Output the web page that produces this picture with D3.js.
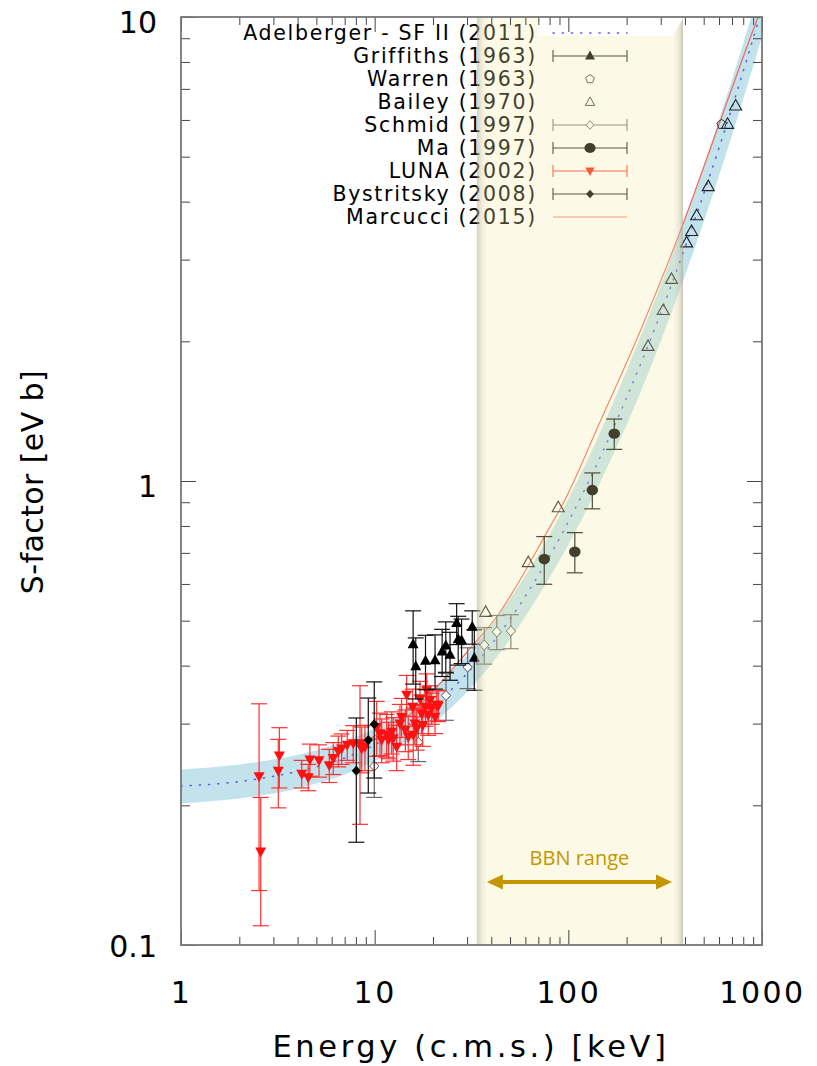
<!DOCTYPE html>
<html>
<head>
<meta charset="utf-8">
<script src="https://cdn.jsdelivr.net/npm/d3@7"></script>
<style>
  html, body { margin: 0; padding: 0; background: #fff; }
  svg { display: block; }
</style>
</head>
<body>
<svg id="chart" width="817" height="1066"></svg>
<script>
// ---- tick values ----
const energyMajor = [1, 10, 100, 1000];
const sMajor = [0.1, 1, 10];
const energyLabels = ['1', '10', '100', '1000'];
const sLabels = ['0.1', '1', '10'];

// ---- Adelberger SF II (2011): central curve and band edges ----
const adelE    = [1, 2, 3, 5, 7, 10, 15, 20, 30, 50, 70, 100, 150, 200, 300, 500, 700, 1000];
const adelS    = [0.220, 0.225, 0.231, 0.242, 0.253, 0.270, 0.299, 0.327, 0.385, 0.504, 0.626, 0.817, 1.153, 1.512, 2.30, 4.16, 6.38, 10.42];
const adelLow  = [0.202, 0.207, 0.212, 0.223, 0.233, 0.249, 0.274, 0.300, 0.351, 0.456, 0.565, 0.729, 1.018, 1.320, 2.004, 3.62, 5.56, 9.08];
const adelHigh = [0.239, 0.245, 0.251, 0.263, 0.275, 0.293, 0.325, 0.357, 0.422, 0.557, 0.694, 0.915, 1.305, 1.732, 2.641, 4.77, 7.33, 11.97];

// ---- Marcucci (2015) curve ----
const marcE = [8, 10, 14, 21, 30, 44.4, 56.3, 75, 96, 146, 234, 386, 606, 942, 1000];
const marcS = [0.268, 0.282, 0.305, 0.360, 0.428, 0.522, 0.612, 0.757, 0.91, 1.343, 2.095, 3.53, 5.94, 9.85, 10.5];

// ---- Griffiths (1963) ----
const griffE   = [15.8, 16.3, 18.3, 20.5, 22.3, 23.3, 24.5, 26.5, 27.0, 28.1, 31.9, 32.7];
const griffS   = [0.445, 0.399, 0.410, 0.411, 0.429, 0.442, 0.422, 0.494, 0.456, 0.454, 0.485, 0.416];
const griffErr = [0.080, 0.060, 0.055, 0.055, 0.050, 0.055, 0.050, 0.050, 0.055, 0.050, 0.040, 0.062];

// ---- Warren (1963) ----
const warrenE = [619];
const warrenS = [5.87];

// ---- Bailey (1970) ----
const baileyE = [37.4, 62.1, 88.7, 258, 309, 341, 408, 433, 460, 528, 664, 731];
const baileyS = [0.521, 0.667, 0.876, 1.95, 2.33, 2.72, 3.26, 3.45, 3.73, 4.31, 5.87, 6.43];

// ---- Schmid (1997) ----
const schmidE   = [9.95, 16.8, 23.35, 30.2, 36.8, 42.7, 50.5];
const schmidS   = [0.243, 0.2735, 0.345, 0.397, 0.443, 0.473, 0.475];
const schmidErr = [0.035, 0.025, 0.040, 0.040, 0.040, 0.040, 0.040];

// ---- Ma (1997) ----
const maE   = [75.1, 108, 133, 172.6];
const maS   = [0.679, 0.704, 0.956, 1.265];
const maErr = [0.080, 0.070, 0.085, 0.095];

// ---- LUNA (2002) ----
const lunaE = [2.53, 2.58, 3.22, 3.18, 4.20, 4.54, 4.63, 5.16, 5.83, 6.11, 6.49, 6.75, 7.22, 7.75, 8.40, 8.57, 8.91,
               10.24, 10.65, 10.87, 11.53, 11.8, 12.24, 12.47, 12.99, 13.51, 13.78, 14.63, 14.4, 14.91, 15.71, 15.82,
               16.15, 16.48, 17.14, 17.48, 17.7, 18.56, 18.3, 18.92, 19.3, 19.7, 20.5, 20.9, 21.3];
const lunaS = [0.231, 0.159, 0.256, 0.2375, 0.234, 0.230, 0.251, 0.250, 0.244, 0.253, 0.262, 0.265, 0.270, 0.272, 0.272, 0.265, 0.2675,
               0.295, 0.286, 0.277, 0.284, 0.277, 0.288, 0.279, 0.2675, 0.300, 0.310, 0.346, 0.291, 0.281, 0.326, 0.284,
               0.300, 0.293, 0.340, 0.3155, 0.298, 0.354, 0.326, 0.313, 0.337, 0.324, 0.3105, 0.329, 0.328];
const lunaErr = [0.100, 0.049, 0.038, 0.040, 0.016, 0.015, 0.020, 0.020, 0.020, 0.020, 0.020, 0.020, 0.020, 0.025, 0.090, 0.030, 0.030,
                 0.040, 0.030, 0.030, 0.030, 0.025, 0.030, 0.030, 0.030, 0.030, 0.030, 0.035, 0.030, 0.030, 0.030, 0.040,
                 0.030, 0.030, 0.030, 0.030, 0.030, 0.030, 0.030, 0.030, 0.025, 0.025, 0.025, 0.025, 0.025];

// ---- Bystritsky (2008) ----
const bystE   = [8.04, 9.27, 9.95];
const bystS   = [0.2375, 0.2766, 0.299];
const bystErr = [0.071, 0.064, 0.070];

// ---- legend ----
const legendLabels = ['Adelberger - SF II (2011)', 'Griffiths (1963)', 'Warren (1963)', 'Bailey (1970)',
                      'Schmid (1997)', 'Ma (1997)', 'LUNA (2002)', 'Bystritsky (2008)', 'Marcucci (2015)'];
const legendKinds  = ['adel', 'griff', 'warren', 'bailey', 'schmid', 'ma', 'luna', 'byst', 'marc'];

// BBN range (keV)
const bbnRange = [33.7, 391];

// ---------------------------------------------------------------------------
const plot = { left: 181, right: 762, top: 17, bottom: 945 };

const x = d3.scaleLog().domain([1, 1000]).range([plot.left, plot.right]);
const y = d3.scaleLog().domain([0.1, 10]).range([plot.bottom, plot.top]);

const svg = d3.select('#chart');
const defs = svg.append('defs');

defs.append('clipPath').attr('id', 'plot-clip')
  .append('rect')
  .attr('x', plot.left).attr('y', plot.top)
  .attr('width', plot.right - plot.left).attr('height', plot.bottom - plot.top);

// overlay gradient of the BBN band (semi transparent, darker at both edges)
const bandGrad = defs.append('linearGradient').attr('id', 'bbn-grad')
  .attr('x1', '0%').attr('x2', '100%').attr('y1', '0%').attr('y2', '0%');
[
  [0, '#b4aa88', 0.55],
  [2.5, '#d8d0a8', 0.40],
  [5, '#f4eda3', 0.27],
  [95, '#f4eda3', 0.27],
  [98, '#d0c8a4', 0.40],
  [100, '#a8a088', 0.60]
].forEach(([o, c, a]) => {
  bandGrad.append('stop').attr('offset', o + '%').attr('stop-color', c).attr('stop-opacity', a);
});

// ---- marker shapes ----
const shapes = {
  triUp:   'M0,-6L5.5,4L-5.5,4Z',
  triDown: 'M0,6L5.5,-4L-5.5,-4Z',
  diamond: 'M0,-5L4.6,0L0,5L-4.6,0Z',
  pentagon: d3.range(5).map(i => {
    const a = -Math.PI / 2 + i * 2 * Math.PI / 5;
    return (i ? 'L' : 'M') + (5 * Math.cos(a)).toFixed(2) + ',' + (5 * Math.sin(a)).toFixed(2);
  }).join('') + 'Z'
};

function points(es, ss, errs) {
  return es.map((e, i) => ({ e, s: ss[i], err: errs ? errs[i] : 0 }));
}

// error bars with caps
function errorBars(g, data, color, width) {
  const bars = g.append('g').attr('stroke', color).attr('stroke-width', width).attr('fill', 'none');
  data.forEach(d => {
    const x0 = x(d.e), yt = y(d.s + d.err), yb = y(Math.max(d.s - d.err, 0.01));
    bars.append('line').attr('x1', x0).attr('x2', x0).attr('y1', yt).attr('y2', yb);
    bars.append('line').attr('x1', x0 - 8).attr('x2', x0 + 8).attr('y1', yt).attr('y2', yt);
    bars.append('line').attr('x1', x0 - 8).attr('x2', x0 + 8).attr('y1', yb).attr('y2', yb);
  });
}

function markers(g, data, path, fill, stroke, sw) {
  g.append('g').selectAll('path').data(data).join('path')
    .attr('d', path)
    .attr('transform', d => `translate(${x(d.e)},${y(d.s)})`)
    .attr('fill', fill)
    .attr('stroke', stroke)
    .attr('stroke-width', sw);
}

const dotted = sel => sel
  .attr('fill', 'none')
  .attr('stroke', '#5a5af2')
  .attr('stroke-width', 1.5)
  .attr('stroke-dasharray', '1.2,8')
  .attr('stroke-linecap', 'round');

// ---- plot layer ----
const plotG = svg.append('g').attr('clip-path', 'url(#plot-clip)');

const adelPts = adelE.map((e, i) => ({ e, s: adelS[i], lo: adelLow[i], hi: adelHigh[i] }));

plotG.append('path')
  .datum(adelPts)
  .attr('d', d3.area().x(d => x(d.e)).y0(d => y(d.lo)).y1(d => y(d.hi)).curve(d3.curveMonotoneX))
  .attr('fill', '#add8e6')
  .attr('fill-opacity', 0.75);

plotG.append('path')
  .datum(adelPts)
  .attr('d', d3.line().x(d => x(d.e)).y(d => y(d.s)).curve(d3.curveMonotoneX))
  .call(dotted);

plotG.append('path')
  .datum(points(marcE, marcS))
  .attr('d', d3.line().x(d => x(d.e)).y(d => y(d.s)).curve(d3.curveMonotoneX))
  .attr('fill', 'none')
  .attr('stroke', '#f06a55')
  .attr('stroke-width', 1.2);

const schmid = points(schmidE, schmidS, schmidErr);
errorBars(plotG, schmid, '#6a6a6a', 1.2);
markers(plotG, schmid, shapes.diamond, '#fff', '#555', 1);

const luna = points(lunaE, lunaS, lunaErr);
errorBars(plotG, luna, '#ff3030', 1.2);
markers(plotG, luna, shapes.triDown, '#ff1010', 'none', 0);

const byst = points(bystE, bystS, bystErr);
errorBars(plotG, byst, '#111', 1.2);
markers(plotG, byst, shapes.diamond, '#000', 'none', 0);

const griff = points(griffE, griffS, griffErr);
errorBars(plotG, griff, '#111', 1.2);
markers(plotG, griff, shapes.triUp, '#000', 'none', 0);

const ma = points(maE, maS, maErr);
errorBars(plotG, ma, '#111', 1.2);
plotG.append('g').selectAll('ellipse').data(ma).join('ellipse')
  .attr('cx', d => x(d.e)).attr('cy', d => y(d.s))
  .attr('rx', 5.8).attr('ry', 5.2)
  .attr('fill', '#000');

markers(plotG, points(baileyE, baileyS), 'M0,-6.5L6,4L-6,4Z', 'none', '#222', 1.1);
markers(plotG, points(warrenE, warrenS), shapes.pentagon, 'none', '#333', 1);

// ---- legend ----
const legend = svg.append('g').attr('class', 'legend');
const legX = 537, symL = 553, symR = 627, symC = 590;
legendLabels.forEach((label, i) => {
  const cy = 33 + i * 23;
  const kind = legendKinds[i];
  legend.append('text')
    .attr('x', legX).attr('y', cy + 7)
    .attr('text-anchor', 'end')
    .attr('font-family', 'DejaVu Sans, Verdana, sans-serif')
    .attr('font-size', 20.5)
    .attr('letter-spacing', 1.7)
    .attr('fill', '#000')
    .text(label);

  const bar = (color) => {
    const gb = legend.append('g').attr('stroke', color).attr('stroke-width', 1.1);
    gb.append('line').attr('x1', symL).attr('x2', symR).attr('y1', cy).attr('y2', cy);
    gb.append('line').attr('x1', symL).attr('x2', symL).attr('y1', cy - 6).attr('y2', cy + 6);
    gb.append('line').attr('x1', symR).attr('x2', symR).attr('y1', cy - 6).attr('y2', cy + 6);
  };
  const sym = (path, fill, stroke, sw, sc) => legend.append('path').attr('d', path)
    .attr('transform', `translate(${symC},${cy}) scale(${sc || 1})`)
    .attr('fill', fill).attr('stroke', stroke).attr('stroke-width', sw);

  if (kind === 'griff') { bar('#222'); sym(shapes.triUp, '#000', 'none', 0, 0.9); }
  if (kind === 'warren') { sym(shapes.pentagon, '#fff', '#444', 1.1, 0.9); }
  if (kind === 'bailey') { sym(shapes.triUp, '#fff', '#333', 1.1, 0.85); }
  if (kind === 'schmid') { bar('#777'); sym(shapes.diamond, '#fff', '#666', 1.1, 0.85); }
  if (kind === 'ma') { bar('#222'); legend.append('ellipse').attr('cx', symC).attr('cy', cy).attr('rx', 5.6).attr('ry', 5).attr('fill', '#000'); }
  if (kind === 'luna') { bar('#ff3a2a'); sym(shapes.triDown, '#ff2010', 'none', 0, 0.85); }
  if (kind === 'byst') { bar('#222'); sym(shapes.diamond, '#000', 'none', 0, 0.85); }
  if (kind === 'marc') {
    legend.append('line').attr('x1', symL).attr('x2', symR).attr('y1', cy).attr('y2', cy)
      .attr('stroke', '#f27a68').attr('stroke-width', 1.2);
  }
});

// ---- BBN overlay band (drawn over data and legend) ----
svg.append('rect')
  .attr('x', x(bbnRange[0])).attr('y', plot.top)
  .attr('width', x(bbnRange[1]) - x(bbnRange[0]))
  .attr('height', plot.bottom - plot.top)
  .attr('fill', 'url(#bbn-grad)');

// light bevel strip at the top of the band, behind the Adelberger legend symbol
svg.append('path')
  .attr('d', `M${legX},${plot.top + 1}L${x(bbnRange[1])},${plot.top + 1}L${x(bbnRange[1]) - 10},${plot.top + 19}L${legX},${plot.top + 19}Z`)
  .attr('fill', '#fff');

// Adelberger legend symbol sits on top of that strip
svg.append('line')
  .attr('x1', symL).attr('x2', symR).attr('y1', 33).attr('y2', 33)
  .call(dotted);

// ---- axes: inward ticks on all four sides ----
const tickColor = '#444';
const minorE = [];
[1, 10, 100].forEach(d => { for (let k = 2; k <= 9; k++) minorE.push(d * k); });
const minorS = [];
[0.1, 1].forEach(d => { for (let k = 2; k <= 9; k++) minorS.push(d * k); });

function styleAxis(g) {
  g.select('.domain').remove();
  g.selectAll('.tick line').attr('stroke', tickColor).attr('stroke-width', 1);
}

svg.append('g').attr('transform', `translate(0,${plot.bottom})`)
  .call(d3.axisBottom(x).tickValues(minorE).tickSize(-8).tickFormat('')).call(styleAxis);
svg.append('g').attr('transform', `translate(0,${plot.top})`)
  .call(d3.axisTop(x).tickValues(minorE).tickSize(-8).tickFormat('')).call(styleAxis);
svg.append('g').attr('transform', `translate(0,${plot.top})`)
  .call(d3.axisTop(x).tickValues(energyMajor).tickSize(-15).tickFormat('')).call(styleAxis);
svg.append('g').attr('transform', `translate(${plot.left},0)`)
  .call(d3.axisLeft(y).tickValues(minorS).tickSize(-9).tickFormat('')).call(styleAxis);
svg.append('g').attr('transform', `translate(${plot.right},0)`)
  .call(d3.axisRight(y).tickValues(minorS).tickSize(-9).tickFormat('')).call(styleAxis);
svg.append('g').attr('transform', `translate(${plot.right},0)`)
  .call(d3.axisRight(y).tickValues(sMajor).tickSize(-15).tickFormat('')).call(styleAxis);

// bottom axis with labels
const xAxisG = svg.append('g').attr('transform', `translate(0,${plot.bottom})`)
  .call(d3.axisBottom(x).tickValues(energyMajor).tickSize(-15).tickPadding(37)
    .tickFormat((d, i) => energyLabels[i]))
  .call(styleAxis);
xAxisG.selectAll('.tick text')
  .attr('font-family', 'DejaVu Sans, Verdana, sans-serif')
  .attr('font-size', 30)
  .attr('letter-spacing', 2.5)
  .attr('fill', '#000');

// left axis with labels
const yAxisG = svg.append('g').attr('transform', `translate(${plot.left},0)`)
  .call(d3.axisLeft(y).tickValues(sMajor).tickSize(-15).tickPadding(24)
    .tickFormat((d, i) => sLabels[i]))
  .call(styleAxis);
yAxisG.selectAll('.tick text')
  .attr('font-family', 'DejaVu Sans, Verdana, sans-serif')
  .attr('font-size', 30)
  .attr('dy', (d, i) => i === 0 ? '0.38em' : '0.52em')
  .attr('fill', '#000');

// frame
svg.append('rect')
  .attr('x', plot.left).attr('y', plot.top)
  .attr('width', plot.right - plot.left).attr('height', plot.bottom - plot.top)
  .attr('fill', 'none').attr('stroke', '#777').attr('stroke-width', 1.8);

// axis titles
svg.append('text')
  .attr('x', 471).attr('y', 1057)
  .attr('text-anchor', 'middle')
  .attr('font-family', 'DejaVu Sans, Verdana, sans-serif')
  .attr('font-size', 30.5)
  .attr('letter-spacing', 3.6)
  .attr('fill', '#000')
  .text('Energy (c.m.s.) [keV]');

svg.append('text')
  .attr('transform', 'translate(43,482) rotate(-90)')
  .attr('text-anchor', 'middle')
  .attr('font-family', 'DejaVu Sans, Verdana, sans-serif')
  .attr('font-size', 30)
  .attr('letter-spacing', 0.4)
  .attr('fill', '#000')
  .text('S-factor [eV b]');

// ---- BBN range arrow ----
const gold = '#c49600';
const ax0 = x(bbnRange[0]) + 10, ax1 = x(bbnRange[1]) - 11, ay = 882;
const arrow = svg.append('g');
arrow.append('line')
  .attr('x1', ax0 + 12).attr('x2', ax1 - 12).attr('y1', ay).attr('y2', ay)
  .attr('stroke', gold).attr('stroke-width', 4);
arrow.append('path').attr('d', `M${ax0},${ay}L${ax0 + 16},${ay - 7.5}L${ax0 + 16},${ay + 7.5}Z`).attr('fill', gold);
arrow.append('path').attr('d', `M${ax1},${ay}L${ax1 - 16},${ay - 7.5}L${ax1 - 16},${ay + 7.5}Z`).attr('fill', gold);
arrow.append('text')
  .attr('x', (ax0 + ax1) / 2).attr('y', 865)
  .attr('text-anchor', 'middle')
  .attr('font-family', 'Open Sans, sans-serif')
  .attr('font-size', 20)
  .attr('fill', gold)
  .text('BBN range');
</script>
</body>
</html>
